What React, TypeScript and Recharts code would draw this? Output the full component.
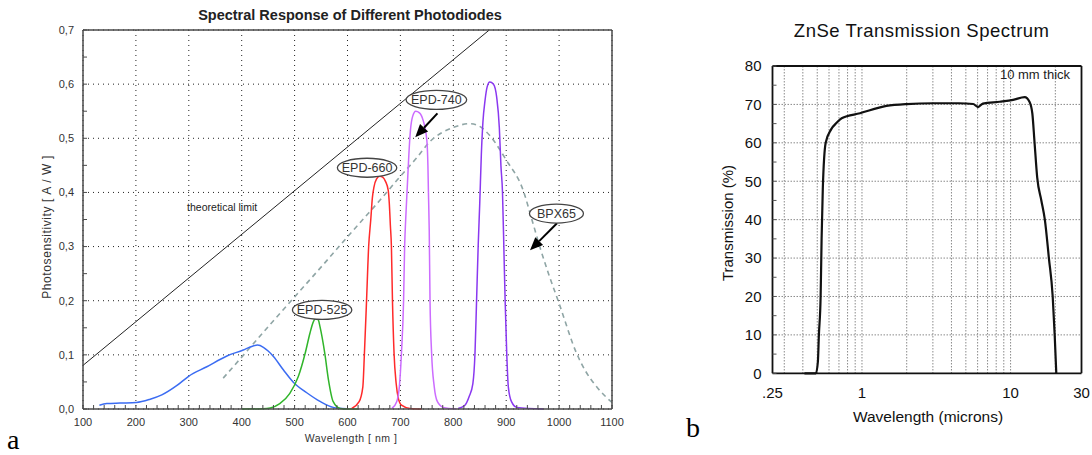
import React from 'react';
import { LineChart, Line, XAxis, YAxis, CartesianGrid, ReferenceDot, ReferenceLine } from 'recharts';

// ---------- (a) spectral response of photodiodes, x in nm, y in A/W
const nmLabels = [100, 200, 300, 400, 500, 600, 700, 800, 900, 1000, 1100];
const nmMinor = Array.from({ length: 51 }, (_, i) => 100 + i * 20);
const awGrid = [0, 0.1, 0.2, 0.3, 0.4, 0.5, 0.6, 0.7];
const awMinor = [0, 0.05, 0.1, 0.15, 0.2, 0.25, 0.3, 0.35, 0.4, 0.45, 0.5, 0.55, 0.6, 0.65, 0.7];

const limitNm = [100, 868];
const limitAw = [0.0806, 0.7];

const blueNm = [131, 145, 170, 201, 227, 249, 277, 299, 334, 372, 403, 415, 430, 441, 450, 460, 479, 498, 523, 548, 573, 598];
const blueAw = [0.007, 0.01, 0.011, 0.012, 0.018, 0.026, 0.043, 0.06, 0.078, 0.098, 0.109, 0.114, 0.118, 0.114, 0.107, 0.097, 0.072, 0.049, 0.03, 0.014, 0.003, 0.0005];

const greenNm = [400, 440, 454, 472, 491, 507, 520, 529, 535, 540, 545, 548, 557, 564, 573, 586, 600, 620];
const greenAw = [0, 0.0005, 0.002, 0.01, 0.029, 0.06, 0.103, 0.14, 0.16, 0.168, 0.164, 0.152, 0.103, 0.054, 0.0135, 0.001, 0, 0];

const redNm = [608, 622, 629, 632, 636, 640, 644, 647, 650, 655, 661, 667, 672, 677, 679, 681, 683, 685, 688, 692, 696, 702, 718, 740];
const redAw = [0.001, 0.0135, 0.041, 0.103, 0.2, 0.3, 0.35, 0.39, 0.41, 0.425, 0.43, 0.428, 0.42, 0.404, 0.38, 0.34, 0.3, 0.2, 0.103, 0.047, 0.02, 0.007, 0.001, 0];

const violetNm = [684, 693, 698, 702, 706, 708, 710, 713, 716, 719, 723, 729, 736, 743, 750, 752, 753, 754.5, 756, 759, 764, 770, 781, 806];
const violetAw = [0.001, 0.0135, 0.041, 0.103, 0.2, 0.3, 0.35, 0.41, 0.47, 0.515, 0.54, 0.55, 0.547, 0.533, 0.496, 0.45, 0.4, 0.33, 0.2, 0.103, 0.041, 0.0135, 0.003, 0];

const purpleNm = [809, 822, 830, 837, 841, 844, 847, 850, 853, 856, 860, 864, 869, 876, 882, 887, 890, 893, 896, 898, 901, 904, 910, 920, 970];
const purpleAw = [0.001, 0.007, 0.023, 0.047, 0.103, 0.2, 0.3, 0.38, 0.47, 0.53, 0.57, 0.595, 0.604, 0.6, 0.576, 0.52, 0.45, 0.4, 0.28, 0.2, 0.103, 0.041, 0.0135, 0.003, 0];

const bpxNm = [365, 410, 450, 500, 550, 600, 630, 660, 693, 730, 756, 800, 832, 850, 869, 900, 932, 950, 965, 980, 1000, 1033, 1050, 1071, 1100];
const bpxAw = [0.057, 0.107, 0.152, 0.207, 0.262, 0.318, 0.351, 0.384, 0.422, 0.463, 0.494, 0.52, 0.527, 0.522, 0.505, 0.46, 0.404, 0.345, 0.295, 0.25, 0.195, 0.103, 0.07, 0.041, 0.012];

// ---------- (b) ZnSe transmission, x in microns (log), y in %
const umLabels = [0.25, 1, 10, 30];
const umGrid = [0.3, 0.4, 0.5, 0.6, 0.7, 0.8, 0.9, 1, 2, 3, 4, 5, 6, 7, 8, 9, 10, 20];
const pctMinor = [0, 5, 10, 15, 20, 25, 30, 35, 40, 45, 50, 55, 60, 65, 70, 75, 80];
const pctGrid = [10, 20, 30, 40, 50, 60, 70];

const znseUm = [0.41, 0.49, 0.505, 0.513, 0.527, 0.535, 0.545, 0.57, 0.62, 0.675, 0.73, 0.97, 1.46, 2, 3, 4.5, 5.6, 6.04, 6.5, 8.45, 10.4, 12.45, 13.4, 14, 14.5, 15.1, 16.1, 17, 18.1, 19.2, 19.8, 20.3];
const znsePct = [0, 0, 3, 10, 20, 35, 48, 60, 63.5, 65.2, 66.4, 67.7, 69.6, 70.1, 70.3, 70.3, 70.1, 69.3, 70.2, 70.7, 71.2, 71.9, 70.7, 67.7, 60, 51, 45, 40, 30, 20, 10, 0];

const pts = (xs: number[], ys: number[]) => xs.map((x, i) => ({ x, y: ys[i] }));

const fmtAw = (v: number) => (Math.abs(v * 10 - Math.round(v * 10)) < 1e-6 ? v.toFixed(1).replace('.', ',') : '');
const fmtNm = (v: number) => (v % 100 === 0 ? String(v) : '');
const fmtPct = (v: number) => (v % 10 === 0 ? String(v) : '');
const fmtUm = (v: number) => (v === 0.25 ? '.25' : String(v));

const tag = (label: string, rx: number) => (p: any) => (
  <g>
    <ellipse cx={p.cx} cy={p.cy} rx={rx} ry={9.5} fill="#fff" stroke="#444" strokeWidth={1.3} />
    <text x={p.cx} y={p.cy + 4.5} textAnchor="middle" fontSize={12.5} fill="#333">{label}</text>
  </g>
);

const note = (label: string, size: number, color: string) => (p: any) => (
  <text x={p.cx} y={p.cy + size * 0.35} textAnchor="middle" fontSize={size} fill={color}>{label}</text>
);

const arrow = (p: any) => {
  const { x1, y1, x2, y2 } = p;
  const a = Math.atan2(y2 - y1, x2 - x1);
  const bx = x2 - 13 * Math.cos(a);
  const by = y2 - 13 * Math.sin(a);
  const px = -Math.sin(a) * 5.5;
  const py = Math.cos(a) * 5.5;
  return (
    <g>
      <line x1={x1} y1={y1} x2={bx} y2={by} stroke="#000" strokeWidth={2} />
      <polygon points={`${x2},${y2} ${bx + px},${by + py} ${bx - px},${by - py}`} fill="#000" />
    </g>
  );
};

const centered = (x: number, y: number, extra: React.CSSProperties = {}): React.CSSProperties => ({
  position: 'absolute', left: x, top: y, transform: 'translate(-50%, -50%)', whiteSpace: 'nowrap', lineHeight: 1, ...extra,
});

const PhotodiodeChart = () => {
  const frame = { stroke: '#4a4a4a', strokeWidth: 1.5 };
  const ax = { xAxisId: 'b', yAxisId: 'l' };
  return (
    <LineChart width={660} height={455} margin={{ top: 29, right: 47, bottom: 45, left: 0 }}>
      <CartesianGrid {...ax} verticalValues={nmLabels} horizontalValues={awGrid} stroke="#222" strokeDasharray="1 4" />
      <XAxis xAxisId="b" dataKey="x" type="number" domain={[100, 1100]} ticks={nmMinor} interval={0} tickFormatter={fmtNm}
        tickSize={-4} tickMargin={13} height={1} axisLine={frame} stroke="#4a4a4a" tick={{ fontSize: 11, fill: '#333' }} />
      <XAxis xAxisId="t" orientation="top" type="number" domain={[100, 1100]} ticks={nmMinor} interval={0} tick={false}
        tickSize={-4} height={1} axisLine={frame} stroke="#4a4a4a" />
      <YAxis yAxisId="l" type="number" domain={[0, 0.7]} ticks={awMinor} interval={0} tickFormatter={fmtAw}
        tickSize={-4} tickMargin={13} width={83} axisLine={frame} stroke="#4a4a4a" tick={{ fontSize: 11, fill: '#333' }} />
      <YAxis yAxisId="r" orientation="right" type="number" domain={[0, 0.7]} ticks={awMinor} interval={0} tick={false}
        tickSize={-4} width={1} axisLine={frame} stroke="#4a4a4a" />

      <Line {...ax} data={pts(limitNm, limitAw)} dataKey="y" type="linear" stroke="#222" strokeWidth={1} dot={false} isAnimationActive={false} />
      <Line {...ax} data={pts(bpxNm, bpxAw)} dataKey="y" type="monotone" stroke="#8fa5a5" strokeWidth={1.6} strokeDasharray="5 4" dot={false} isAnimationActive={false} />
      <Line {...ax} data={pts(blueNm, blueAw)} dataKey="y" type="monotone" stroke="#3b6cf2" strokeWidth={1.5} dot={false} isAnimationActive={false} />
      <Line {...ax} data={pts(greenNm, greenAw)} dataKey="y" type="monotone" stroke="#30b52a" strokeWidth={1.5} dot={false} isAnimationActive={false} />
      <Line {...ax} data={pts(redNm, redAw)} dataKey="y" type="monotone" stroke="#ff2a2a" strokeWidth={1.5} dot={false} isAnimationActive={false} />
      <Line {...ax} data={pts(violetNm, violetAw)} dataKey="y" type="monotone" stroke="#cc6cff" strokeWidth={1.5} dot={false} isAnimationActive={false} />
      <Line {...ax} data={pts(purpleNm, purpleAw)} dataKey="y" type="monotone" stroke="#8a38f0" strokeWidth={1.5} dot={false} isAnimationActive={false} />

      <ReferenceDot {...ax} x={363} y={0.373} r={0} shape={note('theoretical limit', 10.5, '#222')} />
      <ReferenceDot {...ax} x={552} y={0.183} r={0} shape={tag('EPD-525', 29.7)} />
      <ReferenceDot {...ax} x={637} y={0.4456} r={0} shape={tag('EPD-660', 29.7)} />
      <ReferenceDot {...ax} x={768} y={0.571} r={0} shape={tag('EPD-740', 30.3)} />
      <ReferenceDot {...ax} x={995} y={0.361} r={0} shape={tag('BPX65', 27)} />
      <ReferenceLine {...ax} segment={[{ x: 770, y: 0.546 }, { x: 728, y: 0.502 }]} ifOverflow="visible" shape={arrow} />
      <ReferenceLine {...ax} segment={[{ x: 996, y: 0.343 }, { x: 945, y: 0.293 }]} ifOverflow="visible" shape={arrow} />
    </LineChart>
  );
};

const ZnSeChart = () => {
  const frame = { stroke: '#111', strokeWidth: 1.8 };
  const ax = { xAxisId: 'b', yAxisId: 'l' };
  return (
    <LineChart width={412} height={455} margin={{ top: 65, right: 9.5, bottom: 80.7, left: 0 }}>
      <CartesianGrid {...ax} verticalValues={umGrid} horizontalValues={pctGrid} stroke="#8a8a8a" strokeDasharray="1.5 1.5" />
      <XAxis xAxisId="b" dataKey="x" type="number" scale="log" domain={[0.25, 30]} ticks={umLabels} interval={0} tickFormatter={fmtUm}
        tickLine={false} tickSize={0} tickMargin={14} height={1} axisLine={frame} stroke="#111" tick={{ fontSize: 15, fill: '#111' }} />
      <XAxis xAxisId="t" orientation="top" type="number" scale="log" domain={[0.25, 30]} ticks={umLabels} tick={false}
        tickLine={false} height={1} axisLine={frame} stroke="#111" />
      <YAxis yAxisId="l" type="number" domain={[0, 80]} ticks={pctMinor} interval={0} tickFormatter={fmtPct}
        tickSize={-4} tickMargin={15} width={92.5} axisLine={frame} stroke="#111" tickLine={{ stroke: '#555' }} tick={{ fontSize: 15, fill: '#111' }} />
      <YAxis yAxisId="r" orientation="right" type="number" domain={[0, 80]} ticks={pctGrid} tick={false}
        tickLine={false} width={1} axisLine={frame} stroke="#111" />

      <Line {...ax} data={pts(znseUm, znsePct)} dataKey="y" type="monotone" stroke="#111" strokeWidth={2.2} dot={false} isAnimationActive={false} />
      <ReferenceDot {...ax} x={14.6} y={77.7} r={0} shape={note('10 mm thick', 13, '#222')} />
    </LineChart>
  );
};

export default function App() {
  const sans = '"Liberation Sans", Arial, sans-serif';
  const serif = '"Liberation Serif", "Times New Roman", serif';
  return (
    <div style={{ position: 'absolute', left: 0, top: 0, width: 1092, height: 455, background: '#fff', fontFamily: sans, overflow: 'hidden' }}>
      <div style={{ position: 'absolute', left: 0, top: 0 }}>
        <PhotodiodeChart />
      </div>
      <div style={{ position: 'absolute', left: 680, top: 0 }}>
        <ZnSeChart />
      </div>

      <div style={centered(350, 15, { fontSize: 14.5, fontWeight: 700, color: '#222' })}>Spectral Response of Different Photodiodes</div>
      <div style={centered(47, 227, { fontSize: 12, color: '#333', letterSpacing: 0.6, transform: 'translate(-50%, -50%) rotate(-90deg)' })}>Photosensitivity [ A / W ]</div>
      <div style={centered(351, 438, { fontSize: 10.5, color: '#333', letterSpacing: 0.5 })}>Wavelength [ nm ]</div>
      <div style={{ position: 'absolute', left: 7, top: 428, fontFamily: serif, fontSize: 28, lineHeight: '24px' }}>a</div>

      <div style={centered(921.7, 30.7, { fontSize: 18.5, color: '#111', letterSpacing: 0.5 })}>ZnSe Transmission Spectrum</div>
      <div style={centered(727, 223, { fontSize: 15, color: '#111', transform: 'translate(-50%, -50%) rotate(-90deg)' })}>Transmission (%)</div>
      <div style={centered(928, 417, { fontSize: 15.5, color: '#111' })}>Wavelength (microns)</div>
      <div style={{ position: 'absolute', left: 686, top: 416, fontFamily: serif, fontSize: 28, lineHeight: '24px' }}>b</div>
    </div>
  );
}
